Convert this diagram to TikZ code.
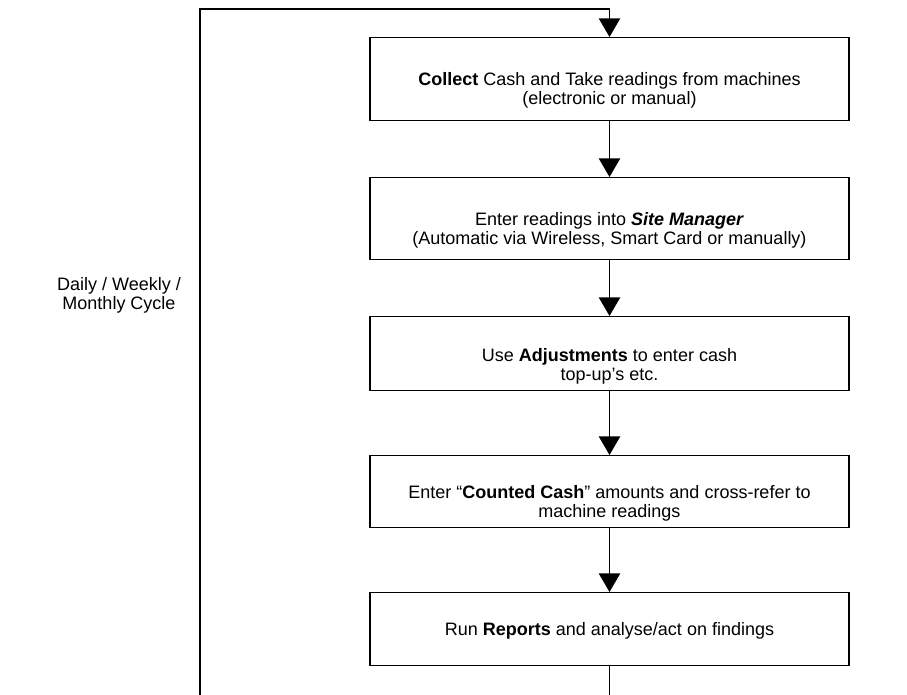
\documentclass[tikz,border=0pt]{standalone}
\usepackage{fontspec}
\setmainfont{Liberation Sans}
\usetikzlibrary{arrows.meta, positioning}
\newlength{\pxu}
\setlength{\pxu}{0.75pt}
\newcommand{\toptext}[3][22pt]{\parbox[c][#2\pxu][t]{479\pxu}{\centering\vspace*{#1}\strut#3}}
\tikzstyle{stepbox} = [rectangle, draw, line width=1.1pt, inner sep=0pt, font=\fontsize{13.5}{14.25}\selectfont]
\tikzstyle{flow} = [line width=1.1pt, -{Triangle[length=14pt, width=16pt]}]

\begin{document}
\begin{tikzpicture}[x=0.75pt, y=-0.75pt, node distance=41.65pt]
  \clip (0,0) rectangle (907,695);
  \node (collect) [stepbox, anchor=north] at (609.5,37) {\toptext[26pt]{83}{\textbf{Collect} Cash and Take readings from machines\\(electronic or manual)}};
  \node (enter) [stepbox, below=of collect] {\toptext[25.5pt]{82}{Enter readings into \textbf{\textit{Site Manager}}\\(Automatic via Wireless, Smart Card or manually)}};
  \node (adjust) [stepbox, below=of enter] {\toptext[23.5pt]{74}{Use \textbf{Adjustments} to enter cash\\top-up’s etc.}};
  \node (counted) [stepbox, below=47.65pt of adjust] {\toptext{72}{Enter “\textbf{Counted Cash}” amounts and cross-refer to\\machine readings}};
  \node (report) [stepbox, below=47.65pt of counted] {\toptext{73}{Run \textbf{Reports} and analyse/act on findings}};
  \node (cycle) [align=center, font=\fontsize{13.5}{14.25}\selectfont] at (119,295) {Daily / Weekly /\\Monthly Cycle};
  \coordinate (loopbot) at (200,720);
  \coordinate (looptop) at (200,9);
  \draw [flow] (collect) -- (enter);
  \draw [flow] (enter) -- (adjust);
  \draw [flow] (adjust) -- (counted);
  \draw [flow] (counted) -- (report);
  \draw [flow] (report) |- (loopbot) -- (looptop) -| (collect);
\end{tikzpicture}
\end{document}
